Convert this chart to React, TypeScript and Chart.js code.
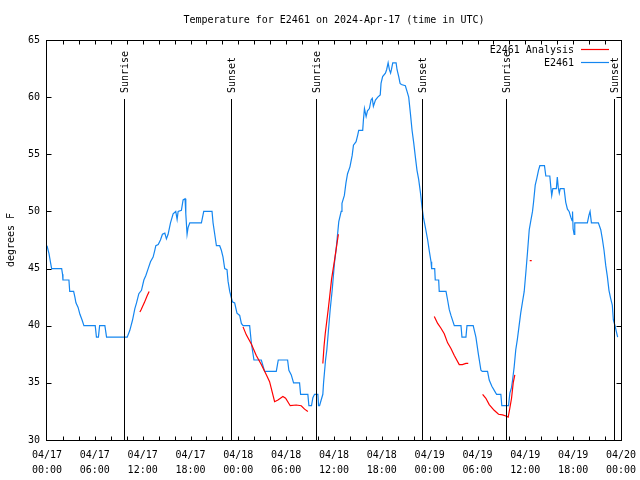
import React, { useEffect, useRef } from 'react';
import { Chart, registerables } from 'chart.js';

Chart.register(...registerables);

const chartTitle = 'Temperature for E2461 on 2024-Apr-17 (time in UTC)';
const yAxisTitle = 'degrees F';
const seriesNames = ['E2461 Analysis', 'E2461'];
const seriesColors = ['#ff0000', '#1486f0'];

// x axis: hours since 2024-04-17 00:00 UTC
const xTickHours = [0, 6, 12, 18, 24, 30, 36, 42, 48, 54, 60, 66, 72];
const xTickDates = ['04/17', '04/17', '04/17', '04/17', '04/18', '04/18', '04/18', '04/18', '04/19', '04/19', '04/19', '04/19', '04/20'];
const xTickTimes = ['00:00', '06:00', '12:00', '18:00', '00:00', '06:00', '12:00', '18:00', '00:00', '06:00', '12:00', '18:00', '00:00'];
const yTickValues = [30, 35, 40, 45, 50, 55, 60, 65];

const sunEventHours = [9.6, 23.05, 33.7, 47.08, 57.63, 71.17];
const sunEventLabels = ['Sunrise', 'Sunset', 'Sunrise', 'Sunset', 'Sunrise', 'Sunset'];

// observed (E2461)
const obsHours = [
  0.0, 0.25, 0.45, 0.58, 1.84, 1.95, 2.0, 2.75, 2.85, 3.34, 3.5, 3.63, 3.9, 4.13, 4.4, 4.63,
  6.05, 6.2, 6.45, 6.6, 7.26, 7.47, 10.06, 10.39, 10.73, 11.02, 11.23, 11.52, 11.85, 12.15,
  12.4, 12.69, 12.98, 13.31, 13.52, 13.65, 13.95, 14.23, 14.48, 14.78, 14.98, 15.19, 15.49,
  15.82, 16.15, 16.32, 16.45, 16.86, 17.07, 17.32, 17.41, 17.57, 17.7, 17.91, 19.37, 19.66,
  20.7, 20.83, 21.04, 21.25, 21.66, 21.87, 22.08, 22.29, 22.58, 22.71, 22.92, 23.25, 23.54,
  23.83, 24.17, 24.38, 24.59, 25.42, 25.63, 25.96, 26.88, 27.3, 28.76, 29.01, 30.18, 30.34,
  30.64, 30.93, 31.68, 31.81, 32.72, 32.85, 33.18, 33.35, 33.56, 33.98, 34.06, 34.19, 34.39,
  34.6, 34.69, 34.94, 35.1, 35.27, 35.52, 35.77, 36.06, 36.27, 36.6, 36.9, 37.0, 37.3, 37.5,
  37.7, 38.0, 38.28, 38.44, 38.77, 38.98, 39.1, 39.6, 39.69, 39.82, 40.03, 40.2, 40.44, 40.65,
  40.8, 40.94, 41.2, 41.49, 41.8, 41.9, 42.1, 42.45, 42.6, 42.79, 42.95, 43.1, 43.2, 43.37,
  43.79, 43.91, 44.12, 44.29, 44.45, 44.95, 45.16, 45.37, 45.58, 45.79, 46.0, 46.2, 46.41,
  46.62, 46.85, 47.04, 47.21, 47.46, 47.75, 47.96, 48.17, 48.25, 48.63, 48.7, 49.13, 49.2,
  50.05, 50.25, 50.46, 50.67, 51.09, 51.93, 52.05, 52.55, 52.68, 53.46, 53.8, 54.09, 54.43,
  54.6, 55.26, 55.47, 55.8, 56.3, 56.4, 56.93, 57.05, 57.89, 58.06, 58.27, 58.4, 58.6, 58.8,
  59.0, 59.2, 59.42, 59.65, 59.86, 60.07, 60.28, 60.49, 60.69, 60.9, 61.03, 61.24, 61.44,
  61.65, 61.82, 62.4, 62.57, 63.07, 63.2, 63.31, 63.45, 63.89, 64.01, 64.13, 64.26, 64.38,
  64.86, 65.07, 65.28, 65.49, 65.7, 65.86, 65.92, 65.99, 66.12, 66.2, 67.78, 67.99, 68.12,
  68.29, 69.16, 69.46, 69.66, 69.87, 70.08, 70.29, 70.49, 70.7, 70.91, 71.04, 71.25, 71.41, 71.58,
];
const obsTemps = [
  47, 46.3, 45.5, 45, 45, 44.5, 44, 44, 43, 43, 42.5, 42, 41.6, 41, 40.5, 40,
  40, 39, 39, 40, 40, 39, 39, 39.6, 40.5, 41.5, 42, 42.8, 43.1, 44,
  44.4, 45, 45.6, 46, 46.6, 47, 47.1, 47.5, 48, 48.1, 47.6, 48, 49,
  49.8, 50, 49.3, 50, 50.1, 51, 51.1, 49.8, 48, 48.6, 49, 49, 50,
  50, 49, 48, 47, 47, 46.6, 46, 45, 44.9, 43.9, 43, 42.1, 42,
  41.1, 40.9, 40.2, 40, 40, 38.5, 37, 37, 36, 36, 37, 37, 36.1,
  35.7, 35, 35, 34, 34, 33, 33, 33.7, 34, 34, 33, 33, 33.5,
  34, 35, 37, 37.9, 39.3, 41.4, 43.1, 45.5, 46.7, 49.1, 50, 50.7, 51.4, 52.5,
  53.3, 53.9, 54.9, 55.8, 56.1, 56.7, 57.1, 57.1, 58, 59, 58.3, 58.8, 59, 59.75,
  59.9, 59.2, 59.75, 60, 60.2, 61.2, 61.8, 62.1, 62.4, 63, 62.4, 62.1, 62.4, 63,
  63, 62.4, 61.8, 61.2, 61.1, 61, 60.5, 60, 58.6, 57.1, 56, 54.8, 53.6,
  52.8, 51.6, 50.4, 49.5, 48.6, 47.5, 46.5, 45.6, 45, 45, 44, 44, 43,
  43, 42.25, 41.4, 40.9, 40, 40, 39, 39, 40, 40, 39, 37.6, 36.1,
  36, 36, 35.25, 34.7, 34.1, 34, 34, 33, 33, 34.1, 34.6, 35.25, 36.4, 37.9,
  38.8, 39.9, 41.1, 42.1, 43, 44.7, 46.5, 48.4, 49.2, 50, 50.8, 52.3, 52.9,
  53.6, 54, 54, 53.1, 53.1, 52.1, 51.4, 52, 52, 53, 52.1, 51.6, 52,
  52, 50.8, 50.2, 50, 49.5, 49.2, 50, 48.5, 48, 49, 49, 49.7, 50,
  49, 49, 48.4, 47.6, 46.6, 45.3, 44.3, 43.1, 42.4, 41.8, 40.5, 40, 39.5, 39,
];

// analysis (E2461 Analysis); null breaks the line
const anaHours = [
  11.65, 11.8, 12.2, 12.55, 12.81, 13.0,
  24.59, 25.0, 25.63, 26.25, 26.88, 27.51, 27.92, 28.55, 28.97, 29.59, 29.93, 30.51, 31.26, 31.89, 32.31, 32.72, 33.0,
  34.6, 34.75, 34.9, 35.27, 35.45, 35.7, 36.06, 36.27, 36.55, 37.0,
  48.58, 49.0, 49.4, 49.83, 50.25, 50.67, 51.09, 51.71, 52.1, 52.55, 52.84, 53.0,
  54.64, 55.05, 55.47, 56.09, 56.64, 57.14, 57.56, 57.85, 58.06, 58.27, 58.48, 58.68, 59.0,
  60.55, 60.8,
];
const anaTemps = [
  41.2, 41.4, 42, 42.6, 43, null,
  39.9, 39.2, 38.4, 37.4, 36.6, 35.7, 35.1, 33.35, 33.5, 33.8, 33.65, 33, 33.06, 33, 32.7, 32.5, null,
  36.7, 38.2, 39.3, 41.4, 42.5, 44.1, 45.7, 46.7, 48, null,
  40.8, 40.2, 39.8, 39.3, 38.5, 38, 37.4, 36.6, 36.6, 36.7, 36.7, null,
  34, 33.65, 33.1, 32.6, 32.25, 32.2, 32.1, 32, 32.8, 33.65, 35, 35.7, null,
  45.7, 45.7,
];

const FONT = 'DejaVu Sans Mono';

const overlayPlugin = {
  id: 'overlay',
  afterDatasetsDraw(chart: any) {
    const { ctx, chartArea: a, scales } = chart;
    const xs = scales.x;
    const ys = scales.y;
    const L = Math.round(a.left) - 0.5;
    const R = Math.round(a.right) + 0.5;
    const T = Math.round(a.top) + 0.5;
    const B = Math.round(a.bottom) + 0.5;
    ctx.save();
    ctx.strokeStyle = '#000';
    ctx.fillStyle = '#000';
    ctx.lineWidth = 1;

    // sunrise / sunset markers
    ctx.font = `10px ${FONT}`;
    sunEventHours.forEach((h, i) => {
      const px = Math.round(xs.getPixelForValue(h)) + 0.5;
      ctx.beginPath();
      ctx.moveTo(px, 99);
      ctx.lineTo(px, B);
      ctx.stroke();
      ctx.save();
      ctx.translate(px + 1, 93);
      ctx.rotate(-Math.PI / 2);
      ctx.textAlign = 'left';
      ctx.textBaseline = 'middle';
      ctx.fillText(sunEventLabels[i], 0, 0);
      ctx.restore();
    });

    // frame
    ctx.strokeRect(L, T, R - L, B - T);

    // x ticks every 2 hours, inward on both sides; y ticks every 5 degrees
    ctx.beginPath();
    for (let h = 2; h < 72; h += 2) {
      const px = Math.round(xs.getPixelForValue(h)) + 0.5;
      ctx.moveTo(px, B);
      ctx.lineTo(px, B - 4);
      ctx.moveTo(px, T);
      ctx.lineTo(px, T + 4);
    }
    yTickValues.forEach((v) => {
      const py = Math.round(ys.getPixelForValue(v)) + 0.5;
      ctx.moveTo(L, py);
      ctx.lineTo(L + 5, py);
      ctx.moveTo(R, py);
      ctx.lineTo(R - 5, py);
    });
    ctx.stroke();

    // title
    ctx.font = `10px ${FONT}`;
    ctx.textAlign = 'center';
    ctx.textBaseline = 'middle';
    ctx.fillText(chartTitle, (a.left + a.right) / 2, 20);

    // y axis title
    ctx.save();
    ctx.translate(11, (a.top + a.bottom) / 2);
    ctx.rotate(-Math.PI / 2);
    ctx.fillText(yAxisTitle, 0, 0);
    ctx.restore();

    // legend
    ctx.textAlign = 'right';
    chart.data.datasets.forEach((ds: any, i: number) => {
      const ty = 50 + i * 13;
      ctx.fillStyle = '#000';
      ctx.fillText(ds.label, 574, ty);
      ctx.strokeStyle = ds.borderColor;
      ctx.lineWidth = 1.2;
      ctx.beginPath();
      ctx.moveTo(581, ty - 0.5);
      ctx.lineTo(609, ty - 0.5);
      ctx.stroke();
    });
    ctx.restore();
  },
};

export default function App() {
  const canvasRef = useRef<HTMLCanvasElement | null>(null);

  useEffect(() => {
    const canvas = canvasRef.current;
    if (!canvas) return;
    const chart = new Chart(canvas, {
      type: 'line',
      data: {
        datasets: [
          {
            label: seriesNames[0],
            data: anaHours.map((h, i) => ({ x: h, y: anaTemps[i] })),
            borderColor: seriesColors[0],
            borderWidth: 1.2,
            pointRadius: 0,
            fill: false,
            spanGaps: false,
            tension: 0,
          },
          {
            label: seriesNames[1],
            data: obsHours.map((h, i) => ({ x: h, y: obsTemps[i] })),
            borderColor: seriesColors[1],
            borderWidth: 1.2,
            pointRadius: 0,
            fill: false,
            tension: 0,
          },
        ],
      },
      options: {
        animation: false,
        responsive: false,
        maintainAspectRatio: false,
        events: [],
        layout: { padding: { top: 40, right: 19, left: 0, bottom: 0 } },
        plugins: {
          legend: { display: false },
          title: { display: false },
          tooltip: { enabled: false },
        },
        scales: {
          x: {
            type: 'linear',
            min: 0,
            max: 72,
            afterBuildTicks: (s: any) => {
              s.ticks = xTickHours.map((v) => ({ value: v }));
            },
            afterFit: (s: any) => {
              s.height = 40;
              s.paddingLeft = 0;
              s.paddingRight = 0;
            },
            grid: { display: false, drawTicks: false },
            border: { display: false },
            ticks: {
              autoSkip: false,
              maxRotation: 0,
              minRotation: 0,
              padding: 8,
              color: '#000',
              font: { family: FONT, size: 10, lineHeight: 1.5 },
              callback: (v: any) => {
                const i = xTickHours.indexOf(Number(v));
                return i >= 0 ? [xTickDates[i], xTickTimes[i]] : '';
              },
            },
          },
          y: {
            type: 'linear',
            min: 30,
            max: 65,
            afterBuildTicks: (s: any) => {
              s.ticks = yTickValues.map((v) => ({ value: v }));
            },
            afterFit: (s: any) => {
              s.width = 47;
              s.paddingTop = 0;
              s.paddingBottom = 0;
            },
            grid: { display: false, drawTicks: false },
            border: { display: false },
            ticks: {
              padding: 7,
              color: '#000',
              font: { family: FONT, size: 10 },
            },
          },
        },
      },
      plugins: [overlayPlugin],
    });
    return () => chart.destroy();
  }, []);

  return (
    <div style={{ position: 'absolute', left: 0, top: 0, width: 640, height: 480, background: '#fff' }}>
      <canvas ref={canvasRef} width={640} height={480} />
    </div>
  );
}
